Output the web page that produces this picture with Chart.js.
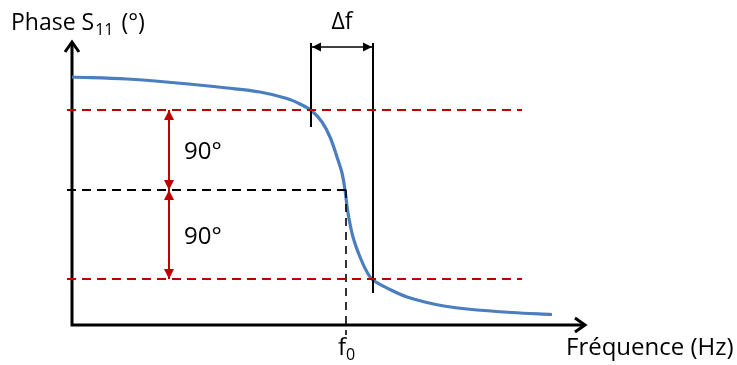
<!DOCTYPE html>
<html lang="fr">
<head>
  <meta charset="UTF-8">
  <title>Phase S11</title>
  <script src="https://cdn.jsdelivr.net/npm/chart.js"></script>
  <style>
    body { margin: 0; background: #fff; }
    #wrap { width: 737px; height: 365px; position: relative; }
  </style>
</head>
<body>
  <div id="wrap"><canvas id="phaseChart"></canvas></div>

  <script>
    // curve (x: frequency, y: phase, arbitrary units)
    const curveX = [0, 55, 105, 155, 188, 215, 228, 240, 250, 258, 265, 270, 273, 276, 281, 288, 295, 301, 318, 335, 355, 372, 395, 440, 480];
    const curveY = [248, 246, 242, 237, 233, 226.5, 221, 214, 203, 188, 168, 152, 135, 112, 88, 68, 53, 45, 35.5, 28, 22.5, 19, 16, 12.5, 10.5];

    // reference levels and frequencies
    const levelTop = 215, levelMid = 135, levelBot = 46;
    const f0 = 274, fLow = 239, fHigh = 301;
    const dashStart = -5, dashEnd = 450;
    const xMax = 513, yMax = 283;

    const red = '#c00000';
    const blue = '#4a7ebf';

    function seg(pts, color, width, extra) {
      return Object.assign({
        data: pts.map(p => ({ x: p[0], y: p[1] })),
        borderColor: color,
        borderWidth: width,
        pointRadius: 0,
        fill: false,
        tension: 0,
        clip: false
      }, extra || {});
    }

    const datasets = [
      seg([[dashStart, levelTop], [dashEnd, levelTop]], red, 1.8, { borderDash: [9, 6] }),
      seg([[dashStart, levelBot], [dashEnd, levelBot]], red, 1.8, { borderDash: [9, 6] }),
      seg([[dashStart, levelMid], [f0 + 4, levelMid]], '#000', 1.8, { borderDash: [9, 6] }),
      seg([[f0, levelMid], [f0, -10]], '#000', 1.6, { borderDash: [8, 6] }),
      seg([[fLow, yMax - 1], [fLow, levelTop - 17]], '#000', 2),
      seg([[fHigh, yMax - 1], [fHigh, levelBot - 14]], '#000', 2),
      seg([[fLow + 1, yMax - 5], [fHigh - 1, yMax - 5]], '#000', 1.5, { arrows: 'both', arrowSize: [9, 4.5] }),
      seg([[97, levelTop], [97, levelMid]], red, 2, { arrows: 'both', arrowSize: [10, 5] }),
      seg([[97, levelMid], [97, levelBot]], red, 2, { arrows: 'both', arrowSize: [10, 5] }),
      {
        data: curveX.map((x, i) => ({ x, y: curveY[i] })),
        borderColor: blue,
        borderWidth: 3.2,
        pointRadius: 0,
        fill: false,
        tension: 0.35,
        clip: false
      },
      seg([[0, yMax], [0, 0], [xMax, 0]], '#000', 3, { axisArrows: true })
    ];

    function tri(ctx, tip, from, len, half, color) {
      const a = Math.atan2(tip.y - from.y, tip.x - from.x);
      ctx.save();
      ctx.fillStyle = color;
      ctx.translate(tip.x, tip.y);
      ctx.rotate(a);
      ctx.beginPath();
      ctx.moveTo(0, 0);
      ctx.lineTo(-len, -half);
      ctx.lineTo(-len, half);
      ctx.closePath();
      ctx.fill();
      ctx.restore();
    }

    function chevron(ctx, tip, from, len, half) {
      const a = Math.atan2(tip.y - from.y, tip.x - from.x);
      ctx.save();
      ctx.strokeStyle = '#000';
      ctx.lineWidth = 3;
      ctx.translate(tip.x, tip.y);
      ctx.rotate(a);
      ctx.beginPath();
      ctx.moveTo(-len, -half);
      ctx.lineTo(0, 0);
      ctx.lineTo(-len, half);
      ctx.stroke();
      ctx.restore();
    }

    const decor = {
      id: 'decor',
      afterDatasetsDraw(chart) {
        const ctx = chart.ctx;
        chart.data.datasets.forEach((ds, i) => {
          const pts = chart.getDatasetMeta(i).data;
          if (ds.arrows === 'both') {
            const [len, half] = ds.arrowSize;
            tri(ctx, pts[0], pts[1], len, half, ds.borderColor);
            tri(ctx, pts[pts.length - 1], pts[pts.length - 2], len, half, ds.borderColor);
          }
          if (ds.axisArrows) {
            chevron(ctx, pts[0], pts[1], 10, 7);
            chevron(ctx, pts[2], pts[1], 10, 7);
          }
        });

        const xs = chart.scales.x, ys = chart.scales.y;
        const font = (s) => s + 'px "Open Sans", sans-serif';
        ctx.save();
        ctx.fillStyle = '#000';
        ctx.textBaseline = 'alphabetic';

        // y axis title with subscript
        let x = 11, base = 30;
        ctx.textAlign = 'left';
        ctx.font = font(23);
        ctx.fillText('Phase S', x, base);
        x += ctx.measureText('Phase S').width;
        ctx.font = font(16);
        ctx.fillText('11', x + 1, base + 5);
        x += ctx.measureText('11').width + 3;
        ctx.font = font(23);
        ctx.fillText(' (°)', x, base);

        // delta f
        ctx.textAlign = 'center';
        ctx.font = font(23);
        ctx.fillText('Δf', (xs.getPixelForValue(fLow) + xs.getPixelForValue(fHigh)) / 2, 29);

        // 90° labels
        ctx.textAlign = 'left';
        ctx.font = font(24);
        const ax = xs.getPixelForValue(97) + 15;
        ctx.fillText('90°', ax, (ys.getPixelForValue(levelTop) + ys.getPixelForValue(levelMid)) / 2 + 9);
        ctx.fillText('90°', ax, (ys.getPixelForValue(levelMid) + ys.getPixelForValue(levelBot)) / 2 + 9);

        // x axis title
        ctx.font = font(24);
        ctx.fillText('Fréquence (Hz)', 566, 355);

        // f0
        const fx = xs.getPixelForValue(f0);
        ctx.font = font(24);
        const fw = ctx.measureText('f').width;
        ctx.fillText('f', fx - fw, 355);
        ctx.font = font(16);
        ctx.fillText('0', fx, 360);
        ctx.restore();
      }
    };

    new Chart(document.getElementById('phaseChart'), {
      type: 'line',
      data: { datasets },
      options: {
        responsive: true,
        maintainAspectRatio: false,
        animation: false,
        layout: { padding: { left: 72, right: 152, top: 42, bottom: 40 } },
        plugins: { legend: { display: false }, tooltip: { enabled: false } },
        scales: {
          x: { type: 'linear', min: 0, max: xMax, display: false },
          y: { type: 'linear', min: 0, max: yMax, display: false }
        }
      },
      plugins: [decor]
    });
  </script>
</body>
</html>
